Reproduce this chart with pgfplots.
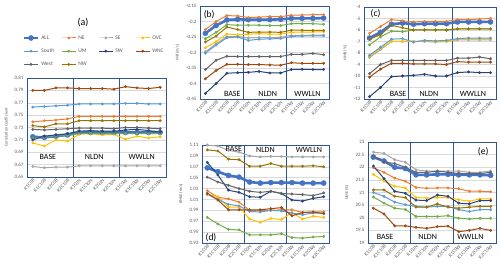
\documentclass[border=0pt]{standalone}
\usepackage{pgfplots}
\pgfplotsset{compat=1.18}
\usepackage{pgfplotstable}
\usepackage{fontspec}
\setmainfont{Carlito}
\definecolor{cALL}{HTML}{4472C4}
\definecolor{cNE}{HTML}{ED7D31}
\definecolor{cSE}{HTML}{A5A5A5}
\definecolor{cOVC}{HTML}{FFC000}
\definecolor{cSouth}{HTML}{5B9BD5}
\definecolor{cUM}{HTML}{70AD47}
\definecolor{cSW}{HTML}{264478}
\definecolor{cWNC}{HTML}{9E480E}
\definecolor{cWest}{HTML}{636363}
\definecolor{cNW}{HTML}{997300}
\definecolor{framec}{HTML}{2F5597}
\definecolor{gridc}{HTML}{D9D9D9}
\definecolor{tickc}{HTML}{595959}

\pgfplotstableread{
x ALL NE SE OVC South UM SW WNC West NW
0 0.715 0.739 0.667 0.705 0.763 0.713 0.710 0.790 0.727 0.733
1 0.714 0.741 0.665 0.700 0.764 0.714 0.716 0.790 0.726 0.731
2 0.716 0.742 0.666 0.710 0.765 0.716 0.718 0.794 0.727 0.736
3 0.718 0.744 0.666 0.708 0.766 0.717 0.720 0.794 0.728 0.736
4 0.722 0.748 0.668 0.719 0.768 0.721 0.724 0.793 0.729 0.741
5 0.722 0.748 0.668 0.720 0.768 0.720 0.725 0.793 0.729 0.741
6 0.722 0.748 0.668 0.718 0.768 0.720 0.724 0.793 0.729 0.741
7 0.722 0.748 0.668 0.719 0.768 0.720 0.724 0.792 0.728 0.741
8 0.722 0.748 0.668 0.711 0.769 0.720 0.726 0.796 0.730 0.741
9 0.722 0.748 0.668 0.716 0.769 0.720 0.727 0.794 0.730 0.741
10 0.722 0.748 0.668 0.713 0.768 0.720 0.725 0.793 0.729 0.741
11 0.722 0.748 0.668 0.715 0.768 0.720 0.723 0.795 0.728 0.741
}\tabA
\pgfplotstableread{
x ALL NE SE OVC South UM SW WNC West NW
0 -0.238 -0.226 -0.298 -0.285 -0.302 -0.256 -0.432 -0.385 -0.355 -0.266
1 -0.213 -0.200 -0.272 -0.265 -0.276 -0.235 -0.400 -0.358 -0.325 -0.247
2 -0.195 -0.181 -0.249 -0.240 -0.252 -0.210 -0.367 -0.338 -0.312 -0.218
3 -0.193 -0.182 -0.248 -0.243 -0.250 -0.212 -0.365 -0.338 -0.313 -0.226
4 -0.194 -0.187 -0.253 -0.241 -0.261 -0.212 -0.364 -0.339 -0.313 -0.235
5 -0.194 -0.186 -0.252 -0.239 -0.257 -0.212 -0.361 -0.339 -0.313 -0.234
6 -0.194 -0.184 -0.252 -0.241 -0.256 -0.213 -0.366 -0.340 -0.313 -0.234
7 -0.193 -0.184 -0.251 -0.241 -0.255 -0.213 -0.366 -0.341 -0.313 -0.235
8 -0.190 -0.180 -0.245 -0.235 -0.248 -0.207 -0.355 -0.333 -0.306 -0.228
9 -0.190 -0.179 -0.245 -0.234 -0.247 -0.207 -0.354 -0.335 -0.306 -0.228
10 -0.190 -0.178 -0.244 -0.234 -0.246 -0.207 -0.355 -0.335 -0.303 -0.229
11 -0.189 -0.178 -0.244 -0.233 -0.246 -0.209 -0.355 -0.335 -0.307 -0.229
}\tabB
\pgfplotstableread{
x ALL NE SE OVC South UM SW WNC West NW
0 -6.7 -6.3 -8.4 -8.3 -8.2 -7.3 -11.8 -10.1 -9.8 -6.8
1 -6.2 -5.7 -7.7 -7.6 -7.5 -6.6 -11.0 -9.4 -9.0 -6.4
2 -5.5 -5.1 -7.0 -7.0 -6.8 -6.1 -10.05 -8.9 -8.65 -5.6
3 -5.4 -5.2 -7.0 -7.0 -6.75 -6.15 -10.0 -8.9 -8.65 -5.8
4 -5.5 -5.3 -7.0 -7.0 -7.05 -6.0 -9.95 -8.95 -8.65 -6.0
5 -5.45 -5.25 -7.0 -6.95 -6.9 -6.0 -9.85 -8.95 -8.65 -6.0
6 -5.45 -5.25 -7.05 -7.0 -6.95 -6.0 -10.0 -8.95 -8.65 -6.0
7 -5.45 -5.25 -7.0 -7.0 -6.9 -6.0 -10.0 -9.0 -8.65 -6.0
8 -5.3 -5.1 -6.85 -6.8 -6.75 -5.9 -9.7 -8.75 -8.45 -5.9
9 -5.3 -5.1 -6.85 -6.8 -6.7 -5.9 -9.65 -8.8 -8.45 -5.9
10 -5.3 -5.05 -6.85 -6.8 -6.7 -5.9 -9.7 -8.8 -8.35 -5.9
11 -5.3 -5.0 -6.85 -6.8 -6.7 -5.9 -9.7 -8.8 -8.5 -5.9
}\tabC
\pgfplotstableread{
x ALL NE SE OVC South UM SW WNC West NW
0 1.068 1.026 1.110 1.019 1.020 0.977 1.078 1.021 1.051 1.101
1 1.061 1.014 1.108 1.015 1.010 0.965 1.055 1.009 1.042 1.099
2 1.054 1.011 1.100 0.996 1.001 0.955 1.027 0.991 1.036 1.084
3 1.051 1.005 1.097 0.996 0.998 0.954 1.023 0.991 1.030 1.083
4 1.042 0.990 1.090 0.974 0.988 0.945 1.015 0.991 1.025 1.071
5 1.040 0.990 1.088 0.968 0.987 0.945 1.014 0.991 1.023 1.071
6 1.041 0.990 1.089 0.975 0.990 0.945 1.025 0.993 1.025 1.076
7 1.041 0.991 1.089 0.973 0.989 0.947 1.021 0.995 1.021 1.071
8 1.041 0.991 1.088 0.986 0.985 0.940 1.009 0.980 1.020 1.071
9 1.040 0.986 1.088 0.974 0.982 0.939 1.007 0.986 1.019 1.071
10 1.040 0.987 1.088 0.979 0.985 0.941 1.012 0.987 1.017 1.072
11 1.040 0.987 1.088 0.977 0.985 0.942 1.015 0.984 1.022 1.070
}\tabD
\pgfplotstableread{
x ALL NE SE OVC South UM SW WNC West NW
0 22.4 21.98 22.6 21.72 21.0 20.82 22.05 20.38 22.45 21.1
1 22.25 21.8 22.55 21.45 20.85 20.58 21.55 20.15 22.2 21.1
2 22.0 21.57 22.3 21.25 20.62 20.38 21.05 19.68 22.15 20.85
3 21.95 21.45 22.2 21.18 20.52 20.33 20.97 19.68 22.0 20.8
4 21.7 21.2 21.9 20.8 20.45 20.05 20.7 19.62 21.8 20.42
5 21.7 21.17 21.85 20.78 20.42 20.05 20.68 19.58 21.8 20.42
6 21.72 21.18 21.85 20.8 20.45 20.05 20.9 19.65 21.85 20.55
7 21.72 21.18 21.85 20.8 20.45 20.08 20.85 19.67 21.8 20.42
8 21.7 21.15 21.85 20.72 20.32 19.98 20.58 19.45 21.75 20.38
9 21.7 21.05 21.8 20.65 20.25 19.95 20.55 19.5 21.75 20.42
10 21.7 21.05 21.8 20.75 20.32 19.98 20.68 19.58 21.75 20.45
11 21.68 21.03 21.85 20.75 20.32 19.98 20.68 19.5 21.8 20.45
}\tabE

\pgfplotsset{
  panel/.style={
    scale only axis, anchor=south west,
    xmin=-0.5, xmax=11.5,
    xtick={0,...,11},
    xticklabels={K1C0B,K1C10B,K2C0B,K2C10B,K1C0N,K1C10N,K2C0N,K2C10N,K1C0W,K1C10W,K2C0W,K2C10W},
    extra x ticks={3.5,7.5}, extra x tick labels={},
    extra x tick style={grid=major, major grid style={framec,line width=0.9pt}},
    ymajorgrids, grid style={gridc,line width=0.4pt},
    major tick length=0pt,
    axis line style={framec,line width=0.9pt},
    scaled y ticks=false,
    tick label style={font=\fontsize{5}{6}\selectfont, text=tickc},
    x tick label style={rotate=45, anchor=north east, inner sep=1pt, font=\fontsize{5}{6}\selectfont},
    /pgf/number format/assume math mode=true,
    ylabel style={font=\fontsize{4.2}{5}\selectfont, text=tickc},
    every axis plot/.append style={line width=1pt, mark=*, mark size=1.3pt, mark options={line width=0.3pt}},
    legend image code/.code={\draw[mark repeat=2,mark phase=2] plot coordinates {(0pt,0pt)(7pt,0pt)(14pt,0pt)};},
  },
  sALL/.style={color=cALL, line width=2.6pt, mark size=2.6pt},
}
\newcommand{\allplots}[1]{%
  \addplot[sALL] table[x=x,y=ALL]{#1};
  \addplot[color=cNE] table[x=x,y=NE]{#1};
  \addplot[color=cSE] table[x=x,y=SE]{#1};
  \addplot[color=cOVC] table[x=x,y=OVC]{#1};
  \addplot[color=cSouth] table[x=x,y=South]{#1};
  \addplot[color=cUM] table[x=x,y=UM]{#1};
  \addplot[color=cSW] table[x=x,y=SW]{#1};
  \addplot[color=cWNC] table[x=x,y=WNC]{#1};
  \addplot[color=cWest] table[x=x,y=West]{#1};
  \addplot[color=cNW] table[x=x,y=NW]{#1};
}

\begin{document}
\begin{tikzpicture}
\node[font=\fontsize{10}{12}\selectfont] at (83pt,246pt) {(a)};
% (a)
\begin{axis}[panel, at={(27pt,92pt)}, width=139pt, height=99pt,
  ymin=0.65, ymax=0.81, ytick={0.65,0.67,0.69,0.71,0.73,0.75,0.77,0.79,0.81},
  yticklabel style={/pgf/number format/fixed,/pgf/number format/fixed zerofill,/pgf/number format/precision=2},
  ylabel={Correlation Coefficient},
  legend style={at={(0.5,1.07)}, anchor=south, draw=none, fill=none, legend columns=4,
    font=\fontsize{5.5}{6.5}\selectfont, text=tickc, row sep=4pt,
    /tikz/every even column/.append style={column sep=2pt}},
  legend cell align=left]
\allplots{\tabA}
\legend{\makebox[16pt][l]{ALL},\makebox[16pt][l]{NE},\makebox[16pt][l]{SE},\makebox[16pt][l]{OVC},
  \makebox[16pt][l]{South},\makebox[16pt][l]{UM},\makebox[16pt][l]{SW},\makebox[16pt][l]{WNC},
  \makebox[16pt][l]{West},\makebox[16pt][l]{NW}}
\node[font=\fontsize{8}{9}\selectfont] at (axis cs:1.3,0.682) {BASE};
\node[font=\fontsize{8}{9}\selectfont] at (axis cs:5.3,0.682) {NLDN};
\node[font=\fontsize{8}{9}\selectfont] at (axis cs:9.4,0.682) {WWLLN};
\end{axis}
% (b)
\begin{axis}[panel, at={(200pt,170pt)}, width=129pt, height=93pt,
  ymin=-0.45, ymax=-0.15, ytick={-0.45,-0.4,-0.35,-0.3,-0.25,-0.2,-0.15},
  yticklabel style={/pgf/number format/fixed,/pgf/number format/precision=2},
  ylabel={MB (m/s)}]
\allplots{\tabB}
\node[font=\fontsize{8}{9}\selectfont] at (axis cs:2.5,-0.434) {BASE};
\node[font=\fontsize{8}{9}\selectfont] at (axis cs:5.8,-0.434) {NLDN};
\node[font=\fontsize{8}{9}\selectfont] at (axis cs:9.5,-0.434) {WWLLN};
\node[font=\fontsize{9.5}{11}\selectfont] at (axis cs:0.35,-0.178) {(b)};
\end{axis}
% (c)
\begin{axis}[panel, at={(364pt,170pt)}, width=132pt, height=92pt,
  ymin=-12, ymax=-4, ytick={-12,-11,...,-4},
  ylabel={NMB (\%)}]
\allplots{\tabC}
\node[font=\fontsize{8}{9}\selectfont] at (axis cs:2.6,-11.6) {BASE};
\node[font=\fontsize{8}{9}\selectfont] at (axis cs:5.4,-11.6) {NLDN};
\node[font=\fontsize{8}{9}\selectfont] at (axis cs:9.4,-11.6) {WWLLN};
\node[font=\fontsize{9.5}{11}\selectfont] at (axis cs:0.55,-4.6) {(c)};
\end{axis}
% (d)
\begin{axis}[panel, at={(202pt,26pt)}, width=127pt, height=98pt,
  ymin=0.93, ymax=1.11, ytick={0.93,0.95,0.97,0.99,1.01,1.03,1.05,1.07,1.09,1.11},
  yticklabel style={/pgf/number format/fixed,/pgf/number format/fixed zerofill,/pgf/number format/precision=2},
  ylabel={RMSE (m/s)}]
\allplots{\tabD}
\node[font=\fontsize{8}{9}\selectfont] at (axis cs:2.5,1.103) {BASE};
\node[font=\fontsize{8}{9}\selectfont] at (axis cs:5.5,1.101) {NLDN};
\node[font=\fontsize{8}{9}\selectfont] at (axis cs:9.6,1.101) {WWLLN};
\node[font=\fontsize{9.5}{11}\selectfont] at (axis cs:0.35,0.940) {(d)};
\end{axis}
% (e)
\begin{axis}[panel, at={(368pt,26pt)}, width=128pt, height=101pt,
  ymin=19, ymax=23, ytick={19,19.5,...,23},
  ylabel={NME (\%)}]
\allplots{\tabE}
\node[font=\fontsize{8}{9}\selectfont] at (axis cs:1.1,19.25) {BASE};
\node[font=\fontsize{8}{9}\selectfont] at (axis cs:5.1,19.25) {NLDN};
\node[font=\fontsize{8}{9}\selectfont] at (axis cs:9.1,19.25) {WWLLN};
\node[font=\fontsize{9.5}{11}\selectfont] at (axis cs:10.3,22.62) {(e)};
\end{axis}
\pgfresetboundingbox
\path[use as bounding box] (0pt,0pt) rectangle (500pt,269pt);
\end{tikzpicture}
\end{document}
